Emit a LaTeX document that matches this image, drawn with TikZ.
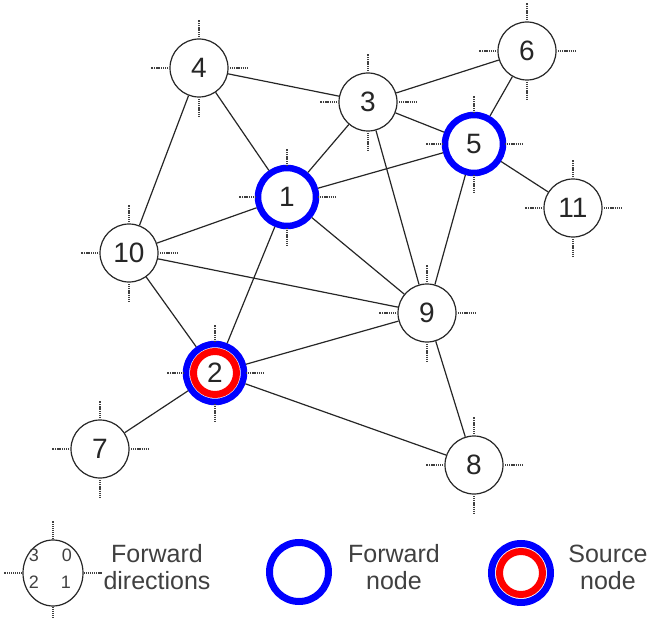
\documentclass[tikz,border=0pt]{standalone}
\usepackage{fontspec}
\setmainfont{Liberation Sans}
\usetikzlibrary{shapes.geometric}

\begin{document}
\begin{tikzpicture}[x=1pt,y=-1pt,
  vtx/.style={circle,draw=black!85,line width=1.2pt,fill=white,minimum size=58pt,inner sep=0pt,
              text=black!85,font=\fontsize{28}{30}\selectfont},
  fwd/.style={vtx,draw=blue,line width=6.5pt},
  src/.style={fwd,path picture={\draw[red,line width=7pt] (path picture bounding box.center) circle (21.5pt);}},
  dirtick/.style={black!75,line width=1.1pt,dash pattern=on 1.2pt off 0.9pt},
  link/.style={black!85,line width=1.2pt},
  lbl/.style={text=black!75,align=center,font=\fontsize{25}{27}\selectfont}]

\useasboundingbox (0,0) rectangle (649,618);

\node[fwd] (n1)  at (287,197) {1};
\node[src] (n2)  at (215,373) {2};
\node[vtx] (n3)  at (368,102) {3};
\node[vtx] (n4)  at (199,68)  {4};
\node[fwd] (n5)  at (474,144) {5};
\node[vtx] (n6)  at (527,51)  {6};
\node[vtx] (n7)  at (100,449) {7};
\node[vtx] (n8)  at (474,465) {8};
\node[vtx] (n9)  at (427,313) {9};
\node[vtx] (n10) at (129,253) {10};
\node[vtx] (n11) at (573,208) {11};

\foreach \v in {1,...,11}
  \draw[dirtick] (n\v) ++(0,-31) -- ++(0,-17)
                 (n\v) ++(0,31)  -- ++(0,17)
                 (n\v) ++(-31,0) -- ++(-17,0)
                 (n\v) ++(31,0)  -- ++(17,0);

\draw[link] (n4) -- (n3)  (n4) -- (n1)  (n4) -- (n10)
            (n3) -- (n6)  (n3) -- (n5)  (n3) -- (n1)  (n3) -- (n9)
            (n6) -- (n5)  (n5) -- (n1)  (n5) -- (n11) (n5) -- (n9)
            (n1) -- (n10) (n1) -- (n9)  (n1) -- (n2)
            (n10) -- (n9) (n10) -- (n2) (n9) -- (n2)  (n9) -- (n8)
            (n2) -- (n7)  (n2) -- (n8);

\node[ellipse,draw=black!85,line width=1.2pt,minimum width=60pt,minimum height=66pt] (dirs) at (53,573) {};
\draw[dirtick] (dirs.north) -- ++(0,-18)
               (dirs.south) -- ++(0,18)
               (dirs.west)  -- ++(-18,0)
               (dirs.east)  -- ++(18,0);
\fill[black!75,font=\fontsize{18}{18}\selectfont]
      (34,555) node (d3) {3}
      (67,555) node (d0) {0}
      (34,582) node (d2) {2}
      (66,582) node (d1) {1};
\node[lbl] (dirtxt) at (157,567) {Forward\\directions};

\node[fwd,line width=7pt,minimum size=59pt] (fwdkey) at (299,572) {};
\node[lbl] (fwdtxt) at (394,567) {Forward\\node};

\node[src,line width=7pt,minimum size=59pt] (srckey) at (521,573) {};
\node[lbl] (srctxt) at (608,567) {Source\\node};

\end{tikzpicture}
\end{document}
